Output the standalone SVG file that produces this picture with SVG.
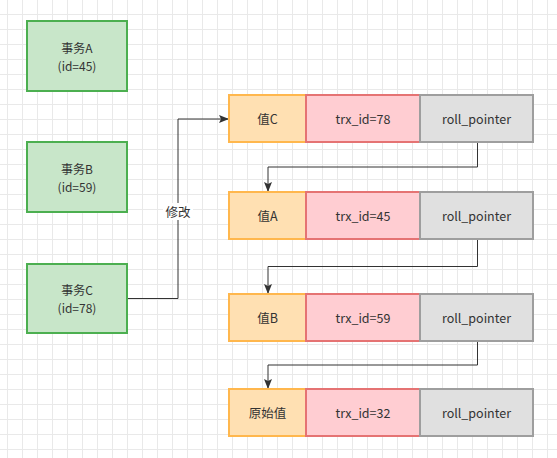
<svg xmlns="http://www.w3.org/2000/svg" width="557" height="458" viewBox="0 0 557 458">
<style>
text{font-family:"Noto Sans CJK SC","Liberation Sans",sans-serif;font-size:12.5px;fill:#333;text-anchor:middle;dominant-baseline:central}
.t2{font-size:12px}
.tx{fill:#c8e6c9;stroke:#4caf50;stroke-width:2}
.val{fill:#ffe0b2;stroke:#ffb74d;stroke-width:2}
.trx{fill:#ffcdd2;stroke:#e57373;stroke-width:2}
.ptr{fill:#e0e0e0;stroke:#9e9e9e;stroke-width:2}
.edge{fill:none;stroke:#333;stroke-width:1}
</style>
<defs>
<pattern id="grid" x="0" y="0" width="15" height="15" patternUnits="userSpaceOnUse">
<path d="M7.5 0V15M0 14.5H15" stroke="#e9e9e9" stroke-width="1" fill="none"/>
</pattern>
<marker id="arr" viewBox="0 0 10 8" refX="10" refY="4" markerWidth="10" markerHeight="8" markerUnits="userSpaceOnUse" orient="auto">
<path d="M0 0L10 4L0 8L2 4Z" fill="#333"/>
</marker>
</defs>
<rect width="557" height="458" fill="#fff"/>
<rect width="557" height="458" fill="url(#grid)"/>
<g id="connectors">
<path class="edge" d="M127 298.5H178V119H229" marker-end="url(#arr)"/>
<path class="edge" d="M477.5 142V167H268V192" marker-end="url(#arr)"/>
<path class="edge" d="M477.5 239V266.5H268V294" marker-end="url(#arr)"/>
<path class="edge" d="M477.5 341V365H268V389" marker-end="url(#arr)"/>
<rect x="163" y="203" width="30" height="17" fill="#fff"/>
<text x="178" y="211">修改</text>
</g>
<g id="txA"><rect class="tx" x="27" y="21" width="100" height="70"/><text class="t2" x="77" y="47">事务A</text><text class="t2" x="77" y="65">(id=45)</text></g>
<g id="txB"><rect class="tx" x="27" y="142" width="100" height="70"/><text class="t2" x="77" y="168">事务B</text><text class="t2" x="77" y="186">(id=59)</text></g>
<g id="txC"><rect class="tx" x="27" y="264" width="100" height="69"/><text class="t2" x="77" y="289.5">事务C</text><text class="t2" x="77" y="307.5">(id=78)</text></g>
<g id="rowC">
<rect class="val" x="229" y="95" width="77" height="47"/><text x="267.5" y="118.5">值C</text>
<rect class="trx" x="306" y="95" width="114" height="47"/><text x="363" y="118.5">trx_id=78</text>
<rect class="ptr" x="420" y="95" width="113" height="47"/><text x="476.5" y="118.5">roll_pointer</text>
</g>
<g id="rowA">
<rect class="val" x="229" y="192" width="77" height="47"/><text x="267.5" y="215.5">值A</text>
<rect class="trx" x="306" y="192" width="114" height="47"/><text x="363" y="215.5">trx_id=45</text>
<rect class="ptr" x="420" y="192" width="113" height="47"/><text x="476.5" y="215.5">roll_pointer</text>
</g>
<g id="rowB">
<rect class="val" x="229" y="294" width="77" height="47"/><text x="267.5" y="317.5">值B</text>
<rect class="trx" x="306" y="294" width="114" height="47"/><text x="363" y="317.5">trx_id=59</text>
<rect class="ptr" x="420" y="294" width="113" height="47"/><text x="476.5" y="317.5">roll_pointer</text>
</g>
<g id="rowOrig">
<rect class="val" x="229" y="389" width="77" height="47"/><text x="267.5" y="412.5">原始值</text>
<rect class="trx" x="306" y="389" width="114" height="47"/><text x="363" y="412.5">trx_id=32</text>
<rect class="ptr" x="420" y="389" width="113" height="47"/><text x="476.5" y="412.5">roll_pointer</text>
</g>
</svg>
